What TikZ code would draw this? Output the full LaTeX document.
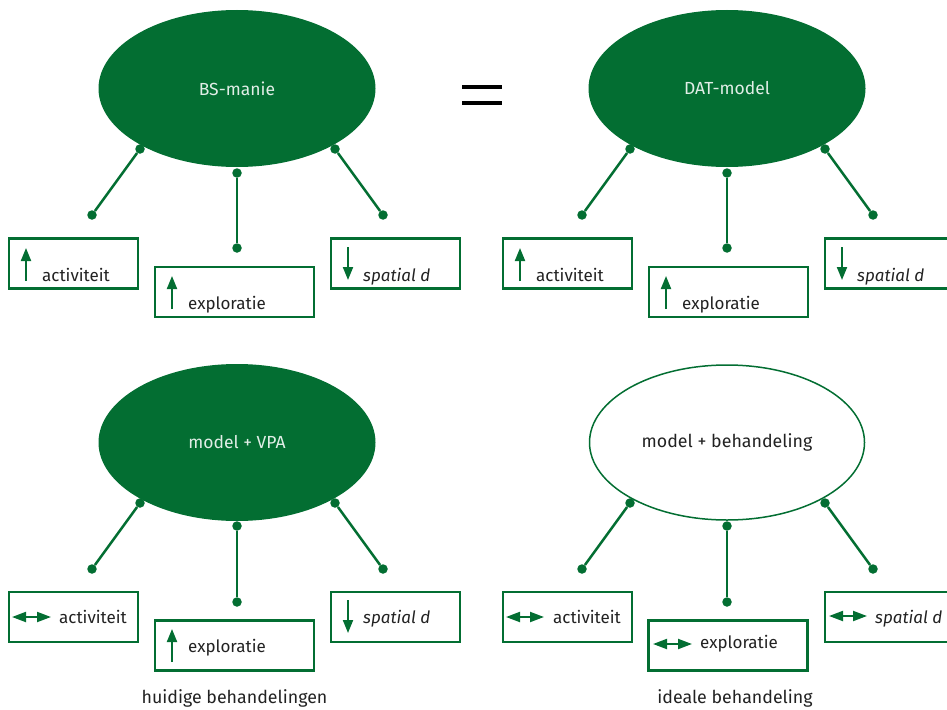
\documentclass[tikz,border=0pt]{standalone}
\usepackage{fontspec}
\setmainfont{Fira Sans}
\usetikzlibrary{arrows.meta,calc,shapes.geometric}
\definecolor{dg}{RGB}{3,110,50}
\definecolor{txt}{RGB}{34,34,34}
\begin{document}
\begin{tikzpicture}[x=1pt,y=-1pt,
  ellf/.style={ellipse, fill=dg, minimum width=277pt, minimum height=157pt, inner sep=0pt,
    text=white!88!dg, font=\fontsize{17.5}{20}\selectfont},
  ello/.style={ellipse, draw=dg, line width=1.5pt, minimum width=275pt, minimum height=155pt, inner sep=0pt,
    text=txt, font=\fontsize{17.8}{20}\selectfont},
  dotn/.style={circle, fill=dg, minimum size=9.5pt, inner sep=0pt},
  link/.style={draw=dg, line width=2.5pt},
  boxn/.style={draw=dg, line width=2.5pt, minimum width=129pt, minimum height=50pt, inner sep=0pt},
  wbox/.style={boxn, minimum width=159pt},
  lbl/.style={anchor=base west, font=\fontsize{17}{20}\selectfont, text=txt, inner sep=0pt},
  ilbl/.style={lbl, font=\fontsize{17}{20}\selectfont\itshape},
  captext/.style={font=\fontsize{17.8}{20}\selectfont, text=txt, inner sep=0pt},
  uarr/.style={draw=dg, line width=2pt, -{Triangle[width=10pt,length=13pt]}},
  darr/.style={draw=dg, line width=2pt, {Triangle[width=10pt,length=14pt]}-{Triangle[width=10pt,length=14pt]}},
]
\useasboundingbox (0,0) rectangle (947,709);
\clip (0,0) rectangle (947,709);

% ---------- group 1: BS-manie ----------
\node[ellf] (e1) at (237,88.5) {BS-manie};
\node[dotn] (d1a) at (140,149) {}; \node[dotn] (d1b) at (92,215) {};
\node[dotn] (d1c) at (237,173) {}; \node[dotn] (d1d) at (237,248) {};
\node[dotn] (d1e) at (335,149) {}; \node[dotn] (d1f) at (383,215) {};
\draw[link] (d1a) -- (d1b); \draw[link] (d1c) -- (d1d); \draw[link] (d1e) -- (d1f);
\node[boxn] (b1a) at (73.5,263.5) {};
\node[wbox] (b1b) at (234.5,292) {};
\node[boxn] (b1c) at (395.5,263.5) {};
\draw[uarr] (26,281) -- (26,248);
\node[lbl] (t1a) at (42,281) {activiteit};
\draw[uarr] (172,309) -- (172,276);
\node[lbl] (t1b) at (188,309) {exploratie};
\draw[uarr] (348,247) -- (348,280);
\node[ilbl] (t1c) at (363,281) {spatial d};

% ---------- equals sign ----------
\draw[line width=4pt] (462,87) -- (502,87);
\draw[line width=4pt] (462,103) -- (502,103);

% ---------- group 2: DAT-model ----------
\node[ellf] (e2) at (727,88.5) {DAT-model};
\node[dotn] (d2a) at (630,149) {}; \node[dotn] (d2b) at (582,215) {};
\node[dotn] (d2c) at (727,173) {}; \node[dotn] (d2d) at (727,248) {};
\node[dotn] (d2e) at (825,149) {}; \node[dotn] (d2f) at (873,215) {};
\draw[link] (d2a) -- (d2b); \draw[link] (d2c) -- (d2d); \draw[link] (d2e) -- (d2f);
\node[boxn] (b2a) at (567.5,263.5) {};
\node[wbox] (b2b) at (728.5,292) {};
\node[boxn] (b2c) at (889.5,263.5) {};
\draw[uarr] (520,281) -- (520,248);
\node[lbl] (t2a) at (536,281) {activiteit};
\draw[uarr] (666,309) -- (666,276);
\node[lbl] (t2b) at (682,309) {exploratie};
\draw[uarr] (842,247) -- (842,280);
\node[ilbl] (t2c) at (857,281) {spatial d};

% ---------- group 3: model + VPA ----------
\node[ellf] (e3) at (237,442.5) {model + VPA};
\node[dotn] (d3a) at (140,503) {}; \node[dotn] (d3b) at (92,569) {};
\node[dotn] (d3c) at (237,526) {}; \node[dotn] (d3d) at (237,602) {};
\node[dotn] (d3e) at (335,503) {}; \node[dotn] (d3f) at (383,569) {};
\draw[link] (d3a) -- (d3b); \draw[link] (d3c) -- (d3d); \draw[link] (d3e) -- (d3f);
\node[boxn] (b3a) at (73.5,617) {};
\node[wbox] (b3b) at (234.5,645.5) {};
\node[boxn] (b3c) at (395.5,617) {};
\draw[darr] (12,617) -- (51,617);
\node[lbl] (t3a) at (59,623) {activiteit};
\draw[uarr] (172,662) -- (172,629);
\node[lbl] (t3b) at (188,652) {exploratie};
\draw[uarr] (348,600) -- (348,633);
\node[ilbl] (t3c) at (363,623) {spatial d};

% ---------- group 4: model + behandeling ----------
\node[ello] (e4) at (727,442.5) {model + behandeling};
\node[dotn] (d4a) at (630,503) {}; \node[dotn] (d4b) at (582,569) {};
\node[dotn] (d4c) at (727,526) {}; \node[dotn] (d4d) at (727,602) {};
\node[dotn] (d4e) at (825,503) {}; \node[dotn] (d4f) at (873,569) {};
\draw[link] (d4a) -- (d4b); \draw[link] (d4c) -- (d4d); \draw[link] (d4e) -- (d4f);
\node[boxn] (b4a) at (567.5,617) {};
\node[wbox] (b4b) at (728,645.5) {};
\node[boxn] (b4c) at (889.5,617) {};
\draw[darr] (506,617) -- (544,617);
\node[lbl] (t4a) at (553,623) {activiteit};
\draw[darr] (653,644) -- (692,644);
\node[lbl] (t4b) at (700,648) {exploratie};
\draw[darr] (829,616) -- (867,616);
\node[ilbl] (t4c) at (875,623) {spatial d};

% ---------- captions ----------
\node[captext] (c1) at (234.5,698) {huidige behandelingen};
\node[captext] (c2) at (735,698) {ideale behandeling};
\end{tikzpicture}
\end{document}
